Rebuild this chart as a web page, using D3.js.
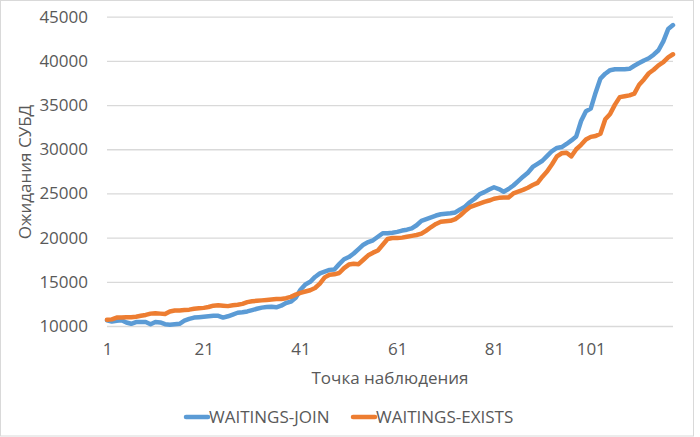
<!DOCTYPE html>
<html>
<head>
<meta charset="utf-8">
<script src="https://cdn.jsdelivr.net/npm/d3@7"></script>
<style>
  html, body { margin: 0; padding: 0; background: #fff; }
  svg { display: block; font-family: "Open Sans", "Noto Sans", sans-serif; }
</style>
</head>
<body>
<svg id="chart" width="700" height="437"></svg>
<script>
const seriesNames = ["WAITINGS-JOIN", "WAITINGS-EXISTS"];
const seriesColors = ["#5B9BD5", "#ED7D31"];
const yTicks = [10000, 15000, 20000, 25000, 30000, 35000, 40000, 45000];
const xTickLabels = [1, 21, 41, 61, 81, 101];

const joinValues = [
  10650, 10500, 10600, 10650, 10400, 10250, 10450, 10450, 10450, 10200,
  10450, 10400, 10200, 10150, 10200, 10250, 10600, 10800, 10950, 11000,
  11050, 11100, 11150, 11150, 10950, 11100, 11300, 11500, 11550, 11650,
  11800, 11950, 12080, 12150, 12180, 12120, 12300, 12600, 12750, 13200,
  14100, 14700, 15000, 15550, 15950, 16150, 16350, 16400, 17000, 17550,
  17800, 18200, 18700, 19200, 19500, 19700, 20100, 20500, 20500, 20550,
  20650, 20800, 20900, 21050, 21400, 21900, 22100, 22300, 22500, 22650,
  22700, 22750, 22850, 23200, 23500, 24000, 24400, 24900, 25150, 25450,
  25700, 25500, 25200, 25500, 25900, 26400, 26900, 27350, 28000, 28350,
  28700, 29250, 29800, 30150, 30250, 30600, 31000, 31450, 33200, 34300,
  34600, 36400, 38000, 38550, 38950, 39050, 39050, 39050, 39100, 39450,
  39750, 40050, 40300, 40700, 41200, 42200, 43600, 44050
];
const existsValues = [
  10700, 10750, 10950, 10950, 11000, 11000, 11050, 11150, 11250, 11400,
  11450, 11400, 11350, 11650, 11750, 11750, 11800, 11850, 11950, 12000,
  12050, 12150, 12300, 12350, 12300, 12250, 12350, 12400, 12500, 12700,
  12800, 12850, 12900, 12950, 13000, 13050, 13050, 13150, 13300, 13550,
  13750, 13900, 14050, 14300, 14800, 15500, 15800, 15850, 16000, 16550,
  16950, 17050, 17000, 17500, 18000, 18300, 18550, 19200, 19850, 19950,
  19950, 20000, 20100, 20200, 20300, 20450, 20800, 21200, 21550, 21800,
  21850, 21900, 22100, 22500, 23000, 23450, 23650, 23850, 24050, 24200,
  24400, 24500, 24550, 24550, 25000, 25200, 25400, 25650, 25950, 26200,
  26900, 27500, 28300, 29200, 29550, 29600, 29200, 30000, 30500, 31100,
  31400, 31500, 31750, 33400, 34000, 35050, 35900, 36000, 36100, 36300,
  37300, 37900, 38600, 39000, 39500, 39850, 40400, 40750
];
const categories = joinValues.map((_, i) => i + 1);

const svg = d3.select("#chart");
const textColor = "#595959";
const gridColor = "#D9D9D9";

// chart area border
svg.append("rect")
  .attr("x", 0.5).attr("y", 0.5)
  .attr("width", 693).attr("height", 435.5)
  .attr("fill", "#fff").attr("stroke", gridColor).attr("stroke-width", 1);

const plot = { left: 107, right: 673, top: 16.7, bottom: 326 };

const x = d3.scalePoint().domain(categories).range([plot.left, plot.right]);
const y = d3.scaleLinear().domain([10000, 45000]).range([plot.bottom, plot.top]);

// gridlines
svg.append("g")
  .attr("transform", `translate(${plot.left},0)`)
  .call(d3.axisLeft(y).tickValues(yTicks).tickSize(-(plot.right - plot.left)).tickFormat(""))
  .call(g => g.select(".domain").remove())
  .call(g => g.selectAll("line").attr("stroke", gridColor).attr("stroke-width", 1.3));

// y tick labels
svg.append("g")
  .attr("transform", `translate(${plot.left},0)`)
  .call(d3.axisLeft(y).tickValues(yTicks).tickSize(0).tickPadding(19).tickFormat(d3.format("d")))
  .call(g => g.select(".domain").remove())
  .call(g => g.selectAll("text").attr("fill", textColor).style("font-size", "17px")
      .style("font-family", '"Open Sans", sans-serif'));

// x tick labels
svg.append("g")
  .attr("transform", `translate(0,${plot.bottom})`)
  .call(d3.axisBottom(x).tickValues(xTickLabels).tickSize(0).tickPadding(17))
  .call(g => g.select(".domain").remove())
  .call(g => g.selectAll("text").attr("fill", textColor).style("font-size", "17px")
      .style("font-family", '"Open Sans", sans-serif'));

// axis titles
svg.append("text")
  .attr("x", 390).attr("y", 384)
  .attr("text-anchor", "middle")
  .attr("fill", textColor).style("font-size", "17px")
  .text("Точка наблюдения");

svg.append("text")
  .attr("transform", "translate(31,172) rotate(-90)")
  .attr("text-anchor", "middle")
  .attr("fill", textColor).style("font-size", "17px")
  .text("Ожидания СУБД");

// lines
const line = d3.line().x((d, i) => x(categories[i])).y(d => y(d));
[joinValues, existsValues].forEach((vals, k) => {
  svg.append("path")
    .datum(vals)
    .attr("d", line)
    .attr("fill", "none")
    .attr("stroke", seriesColors[k])
    .attr("stroke-width", 4.5)
    .attr("stroke-linejoin", "round")
    .attr("stroke-linecap", "round");
});

// legend
const legendItems = [{ x: 186, name: seriesNames[0], color: seriesColors[0] },
                     { x: 353, name: seriesNames[1], color: seriesColors[1] }];
const legend = svg.append("g");
legendItems.forEach(it => {
  legend.append("line")
    .attr("x1", it.x).attr("x2", it.x + 22)
    .attr("y1", 417).attr("y2", 417)
    .attr("stroke", it.color).attr("stroke-width", 4.5).attr("stroke-linecap", "round");
  legend.append("text")
    .attr("x", it.x + 23).attr("y", 423)
    .attr("fill", textColor).style("font-size", "17px")
    .text(it.name);
});
</script>
</body>
</html>
